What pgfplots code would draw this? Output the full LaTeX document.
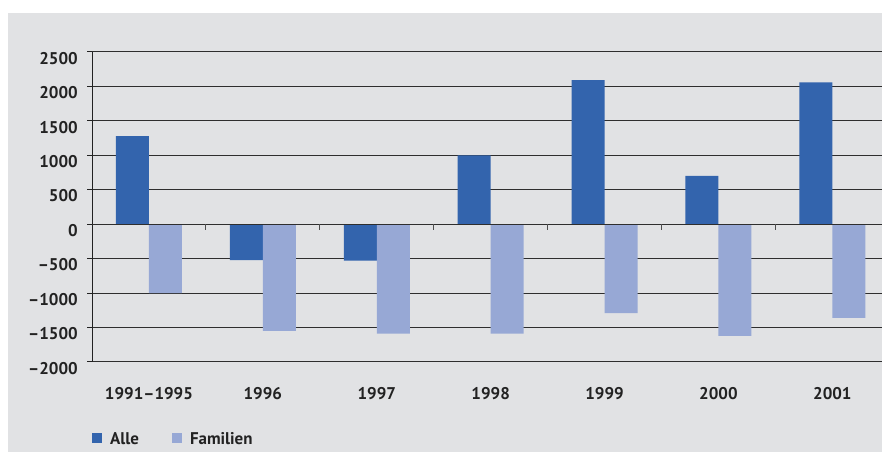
\documentclass[border=0pt]{standalone}
\usepackage{fontspec}
\setmainfont{PT Sans}
\usepackage{pgfplots}
\pgfplotsset{compat=1.18}
\definecolor{bg}{HTML}{E1E2E4}
\definecolor{alle}{HTML}{3364AD}
\definecolor{familien}{HTML}{97A8D5}
\definecolor{ink}{HTML}{222222}
\definecolor{gridc}{HTML}{2E2E2E}

\begin{document}
\begin{tikzpicture}[x=1bp,y=1bp]
\useasboundingbox (0,0) rectangle (882,452);
\fill[white] (0,0) rectangle (882,452);
\fill[bg] (8,0) rectangle (882,439);
\begin{axis}[
  at={(92bp,90bp)}, anchor=south west,
  scale only axis, width=790bp, height=310bp,
  ybar=0pt, bar width=33bp,
  xmin=-0.5, xmax=6.436, ymin=-2000, ymax=2500,
  xtick={0,...,6},
  xticklabels={1991–1995,1996,1997,1998,1999,2000,2001},
  ytick={-2000,-1500,...,2500},
  yticklabels={–2000,–1500,–1000,–500,0,500,1000,1500,2000,2500},
  axis x line*=bottom, axis y line*=left,
  x axis line style={draw=none},
  y axis line style={ink, line width=1bp, -},
  ymajorgrids, grid style={gridc, line width=1bp},
  major x tick style={draw=none},
  major y tick style={ink, line width=1bp},
  tick align=outside, major tick length=5bp,
  tick label style={font=\fontsize{17}{20}\selectfont\bfseries, text=ink,
    inner sep=0pt, text height=12bp, text depth=0pt},
  xticklabel style={anchor=north, yshift=-20.5bp},
  yticklabel style={anchor=north east, xshift=-9bp},
  legend columns=-1,
  legend style={at={(0,-0.248)}, anchor=west, draw=none, fill=none,
    inner xsep=0pt, inner ysep=0pt,
    font=\fontsize{17}{20}\selectfont\bfseries, text=ink,
    nodes={inner sep=0pt, text height=12bp, text depth=0pt},
    /tikz/every odd column/.append style={column sep=8bp},
    /tikz/every even column/.append style={column sep=33bp}},
  legend image code/.code={\fill[#1] (0bp,-4bp) rectangle (10bp,6bp);},
]
\addplot[fill=alle, draw=none] coordinates {
  (0,1280) (1,-520) (2,-530) (3,1000) (4,2090) (5,700) (6,2060)};
\addplot[fill=familien, draw=none] coordinates {
  (0,-1000) (1,-1550) (2,-1590) (3,-1590) (4,-1290) (5,-1620) (6,-1360)};
\legend{Alle, Familien}
% zero line with the group separators hanging from it
\draw[gridc, line width=1bp] (axis cs:-0.5,0) -- (axis cs:6.436,0);
\pgfplotsinvokeforeach{0.5,1.5,2.5,3.5,4.5,5.5}{
  \draw[ink!80, line width=1bp] (axis cs:#1,0) -- ++(0bp,-6bp);
}
\end{axis}
\end{tikzpicture}
\end{document}
